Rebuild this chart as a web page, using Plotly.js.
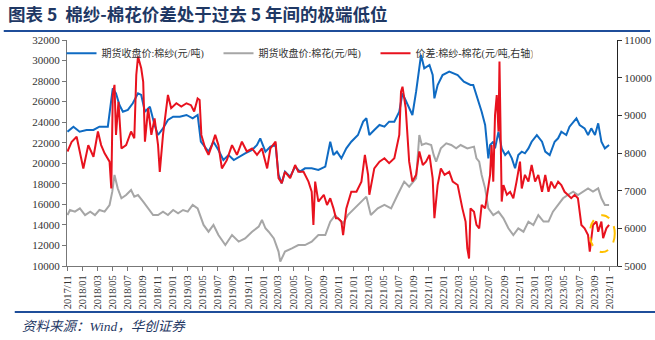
<!DOCTYPE html>
<html>
<head>
<meta charset="utf-8">
<script src="https://cdn.plot.ly/plotly-3.0.1.min.js"></script>
<style>html,body{margin:0;padding:0;background:#fff;}#chart{width:655px;height:340px;}</style>
</head>
<body>
<div id="chart"></div>
<script>
// 期货收盘价:棉纱(元/吨)
const yarnDates = ['2017-11-01','2017-11-25','2017-12-20','2018-01-17','2018-02-14','2018-03-10','2018-04-13','2018-05-03','2018-05-16','2018-05-30','2018-06-13','2018-07-03','2018-07-23','2018-08-13','2018-08-26','2018-09-10','2018-09-30','2018-10-19','2018-11-02','2018-11-22','2018-12-12','2019-01-02','2019-01-29','2019-02-25','2019-03-22','2019-04-11','2019-04-24','2019-05-25','2019-06-14','2019-07-04','2019-07-24','2019-08-14','2019-09-04','2019-09-24','2019-10-20','2019-11-17','2019-12-07','2019-12-20','2020-01-10','2020-01-30','2020-02-20','2020-03-03','2020-03-16','2020-03-29','2020-04-19','2020-05-09','2020-05-29','2020-06-18','2020-07-15','2020-08-11','2020-09-08','2020-09-28','2020-10-11','2020-10-25','2020-11-12','2020-12-02','2020-12-22','2021-01-18','2021-02-08','2021-02-21','2021-03-05','2021-03-25','2021-04-15','2021-05-05','2021-05-24','2021-06-14','2021-07-04','2021-07-17','2021-07-30','2021-08-13','2021-08-26','2021-09-10','2021-09-23','2021-09-30','2021-10-13','2021-11-03','2021-11-16','2021-11-23','2021-12-06','2021-12-26','2022-01-22','2022-02-25','2022-03-22','2022-04-18','2022-04-29','2022-05-12','2022-06-02','2022-06-16','2022-06-29','2022-07-06','2022-07-19','2022-07-26','2022-08-09','2022-08-22','2022-09-05','2022-09-18','2022-10-02','2022-10-15','2022-10-28','2022-11-11','2022-11-24','2022-12-08','2022-12-21','2023-01-11','2023-02-01','2023-02-14','2023-03-04','2023-03-24','2023-04-07','2023-04-20','2023-05-10','2023-05-23','2023-06-07','2023-06-20','2023-07-03','2023-07-23','2023-08-06','2023-08-19','2023-09-03','2023-09-16','2023-09-29','2023-10-13','2023-10-30'];
const yarnPrice = [23070,23560,23070,23240,23240,23560,23560,27300,26810,25670,25020,25190,25840,26810,26650,25020,25510,23730,22750,23400,24210,24530,24530,24700,24380,24700,22100,21130,22100,21290,20320,20800,20320,20640,20970,21290,21780,22430,21130,21610,21780,18860,18050,19180,18690,19670,19180,19510,19510,19350,19670,22100,20800,21130,20480,21450,22100,22750,24050,24380,22750,23240,23730,23560,24050,24050,25020,26810,26160,25510,24700,26970,29240,30540,29240,29570,28590,26320,27620,28590,28920,28590,27940,27620,27620,26650,25020,23730,20480,21780,22100,21450,23070,21450,20800,21130,20480,19510,20800,21130,20970,21450,22100,22750,22100,21130,20800,22100,22430,23070,22750,23560,24050,24380,23730,23400,22750,23400,22750,23890,22100,21450,21780];

// 期货收盘价:棉花(元/吨)
const cottonDates = ['2017-11-01','2017-11-11','2017-12-01','2017-12-21','2018-01-11','2018-02-01','2018-02-20','2018-03-10','2018-03-31','2018-04-20','2018-05-01','2018-05-10','2018-05-23','2018-06-07','2018-06-26','2018-07-16','2018-07-29','2018-08-13','2018-09-03','2018-09-23','2018-10-13','2018-11-02','2018-11-22','2018-12-12','2019-01-02','2019-01-22','2019-02-11','2019-03-02','2019-03-22','2019-04-11','2019-04-24','2019-05-05','2019-05-25','2019-06-14','2019-07-04','2019-08-01','2019-08-28','2019-09-24','2019-10-20','2019-11-17','2019-12-14','2019-12-27','2020-01-10','2020-01-23','2020-02-13','2020-03-03','2020-03-10','2020-03-29','2020-04-26','2020-05-22','2020-06-18','2020-07-15','2020-08-11','2020-09-08','2020-09-28','2020-10-18','2020-10-29','2020-11-19','2020-12-08','2021-01-05','2021-02-01','2021-02-21','2021-03-11','2021-04-08','2021-05-05','2021-06-01','2021-06-27','2021-07-24','2021-08-13','2021-09-10','2021-09-23','2021-10-03','2021-10-20','2021-11-10','2021-11-20','2021-11-30','2021-12-19','2022-01-10','2022-01-30','2022-02-19','2022-03-09','2022-04-05','2022-05-02','2022-05-12','2022-05-23','2022-06-02','2022-06-16','2022-06-29','2022-07-19','2022-08-09','2022-08-29','2022-09-18','2022-10-08','2022-10-28','2022-11-18','2022-12-08','2022-12-28','2023-01-17','2023-02-07','2023-02-27','2023-03-17','2023-04-07','2023-04-27','2023-05-16','2023-06-07','2023-06-26','2023-07-16','2023-08-06','2023-08-26','2023-09-16','2023-09-29','2023-10-13','2023-10-30'];
const cottonPrice = [14960,15450,15290,15610,14960,15290,14960,15450,15290,15940,17240,18860,17560,16590,16910,17400,16750,16910,16260,15610,14960,14960,15290,14960,15450,15130,15450,15290,15940,15610,14800,14000,13340,13990,13020,12040,13020,12370,12690,13340,13830,14480,13670,13340,12690,11400,10420,11400,11720,12040,12040,12370,13020,13020,14320,14960,14640,14150,14960,15610,16260,16750,14960,15610,15940,15610,16910,18210,17720,18530,22750,21780,21940,21780,20810,20160,21450,21940,21780,21450,21780,21450,21620,20480,20160,18860,17560,15610,14960,15290,14640,13670,13020,13670,13340,14320,13990,14960,14320,14320,15290,15940,16590,16910,17240,16910,17240,17560,17240,17560,16590,15940,15940];

// 价差:棉纱-棉花(元/吨,右轴)
const spreadDates = ['2017-11-01','2017-11-18','2017-12-08','2017-12-21','2018-01-04','2018-01-24','2018-02-14','2018-03-04','2018-03-17','2018-03-31','2018-04-20','2018-04-27','2018-05-03','2018-05-10','2018-05-16','2018-05-26','2018-06-07','2018-06-26','2018-07-16','2018-07-29','2018-08-06','2018-08-13','2018-08-26','2018-09-03','2018-09-10','2018-09-23','2018-10-06','2018-10-19','2018-11-02','2018-11-09','2018-11-22','2018-12-12','2018-12-25','2019-01-15','2019-02-04','2019-02-25','2019-03-15','2019-03-28','2019-04-11','2019-04-19','2019-04-26','2019-05-12','2019-05-25','2019-06-08','2019-06-21','2019-07-04','2019-07-18','2019-08-07','2019-08-28','2019-09-17','2019-10-07','2019-10-27','2019-11-17','2019-12-07','2019-12-27','2020-01-17','2020-01-30','2020-02-20','2020-03-03','2020-03-16','2020-03-29','2020-04-19','2020-05-09','2020-05-22','2020-06-12','2020-07-02','2020-07-15','2020-07-22','2020-07-29','2020-08-11','2020-09-02','2020-09-15','2020-09-28','2020-10-11','2020-10-21','2020-10-29','2020-11-12','2020-11-19','2020-12-02','2020-12-22','2021-01-12','2021-02-01','2021-02-15','2021-02-28','2021-03-05','2021-03-25','2021-04-15','2021-05-05','2021-05-24','2021-06-14','2021-07-04','2021-07-11','2021-07-17','2021-07-30','2021-08-13','2021-08-26','2021-09-10','2021-09-23','2021-10-07','2021-10-20','2021-11-03','2021-11-16','2021-11-23','2021-12-06','2021-12-19','2022-01-03','2022-01-22','2022-02-05','2022-02-25','2022-03-16','2022-03-29','2022-04-05','2022-04-12','2022-04-18','2022-05-02','2022-05-12','2022-05-23','2022-06-02','2022-06-16','2022-07-06','2022-07-12','2022-07-19','2022-07-26','2022-08-02','2022-08-09','2022-08-13','2022-08-18','2022-08-22','2022-08-29','2022-09-12','2022-09-25','2022-10-08','2022-10-21','2022-11-04','2022-11-11','2022-11-24','2022-12-08','2022-12-21','2023-01-04','2023-01-17','2023-02-01','2023-02-14','2023-02-27','2023-03-10','2023-03-24','2023-04-07','2023-04-20','2023-05-03','2023-05-16','2023-05-30','2023-06-13','2023-06-26','2023-07-10','2023-07-23','2023-08-06','2023-08-13','2023-08-26','2023-09-09','2023-09-16','2023-09-29','2023-10-06','2023-10-19','2023-10-30'];
const spreadValue = [8040,8300,8430,8040,7590,8210,7900,8570,8210,7990,7770,7060,9540,9810,8480,9360,8120,8210,8570,8390,10070,10560,10250,9890,8300,9190,8480,8920,8210,7500,8480,9540,9190,9320,9230,9320,9270,9100,9450,9410,8480,8120,7950,8210,8480,8210,7590,7810,8210,7950,8300,8040,8120,7950,8120,7590,8120,8300,7330,7200,7500,7330,7680,7500,7500,7240,6970,6090,7240,6710,6890,6620,6800,6530,6270,6270,6180,5820,6530,6970,6970,7240,7950,7420,6890,7590,7770,7860,7730,7860,8480,9630,9760,9190,7770,7240,7420,8040,7680,7770,7950,7330,6270,7150,7590,7420,7500,7240,7150,6530,6180,5470,5200,6530,6440,6090,6000,6620,6530,7420,8210,7240,9010,9540,8570,10430,8660,6710,7150,6890,6970,6800,7240,7770,7060,7420,7240,7680,7240,7420,6970,7420,6970,7240,7060,7240,7150,6970,6890,6800,6890,6800,6090,6000,5820,5380,6090,6180,5910,6180,5740,6000,6090];

// x-axis tick labels every two months
const tickDates = ['2017-11-01','2018-01-01','2018-03-01','2018-05-01','2018-07-01','2018-09-01','2018-11-01','2019-01-01','2019-03-01','2019-05-01','2019-07-01','2019-09-01','2019-11-01','2020-01-01','2020-03-01','2020-05-01','2020-07-01','2020-09-01','2020-11-01','2021-01-01','2021-03-01','2021-05-01','2021-07-01','2021-09-01','2021-11-01','2022-01-01','2022-03-01','2022-05-01','2022-07-01','2022-09-01','2022-11-01','2023-01-01','2023-03-01','2023-05-01','2023-07-01','2023-09-01','2023-11-01'];
const tickLabels = tickDates.map(d => d.slice(0,4) + '/' + d.slice(5,7));

const serif = 'Liberation Serif, "Times New Roman", "Noto Sans CJK SC", serif';
const navy = '#1F3864';

const traces = [
  {x: yarnDates, y: yarnPrice, name: '期货收盘价:棉纱(元/吨)', type: 'scatter', mode: 'lines',
   line: {color: '#0F6BC3', width: 2}, yaxis: 'y'},
  {x: cottonDates, y: cottonPrice, name: '期货收盘价:棉花(元/吨)', type: 'scatter', mode: 'lines',
   line: {color: '#A6A6A6', width: 2}, yaxis: 'y'},
  {x: spreadDates, y: spreadValue, name: '价差:棉纱-棉花(元/吨,右轴)', type: 'scatter', mode: 'lines',
   line: {color: '#E8121E', width: 2}, yaxis: 'y2'}
];

const layout = {
  width: 655, height: 340,
  margin: {l: 67, r: 38, t: 40, b: 74},
  paper_bgcolor: '#fff', plot_bgcolor: '#fff',
  showlegend: true,
  title: {text: '<b>图表 5  棉纱-棉花价差处于过去 5 年间的极端低位</b>', xref: 'container', yref: 'container',
          x: 8/655, xanchor: 'left', y: 1 - 15/340, yanchor: 'middle',
          font: {family: '"Noto Sans CJK SC", sans-serif', size: 17.5, color: navy}},
  legend: {orientation: 'h', x: -0.01, y: 1.005, xanchor: 'left', yanchor: 'top', bgcolor: 'rgba(0,0,0,0)',
           font: {family: serif, size: 10, color: '#333'}, entrywidth: 112, entrywidthmode: 'pixels',
           itemwidth: 30, tracegroupgap: 0},
  xaxis: {type: 'date', range: ['2017-10-30', '2023-12-01'], tickmode: 'array', tickvals: tickDates, ticktext: tickLabels,
          tickangle: -90, ticks: 'outside', ticklen: 4, tickcolor: '#777', showgrid: false, zeroline: false,
          showline: true, linecolor: '#777', linewidth: 1, tickfont: {family: serif, size: 10.5, color: '#333'}},
  yaxis: {range: [10000, 32000], dtick: 2000, tick0: 10000, tickformat: 'd', ticks: 'outside', ticklen: 4, tickcolor: '#777',
          showgrid: false, zeroline: false, showline: true, linecolor: '#777', linewidth: 1,
          tickfont: {family: serif, size: 11, color: '#333'}},
  yaxis2: {range: [5000, 11000], dtick: 1000, tick0: 5000, tickformat: 'd', overlaying: 'y', side: 'right', ticks: 'outside', ticklen: 4,
           tickcolor: '#333', showgrid: false, zeroline: false, showline: true, linecolor: '#222', linewidth: 1,
           tickfont: {family: serif, size: 11, color: '#333'}},
  shapes: [
    {type: 'line', xref: 'paper', yref: 'paper', x0: -0.115, x1: 1.06, y0: 1.04, y1: 1.04, line: {color: '#1F4E9A', width: 2}},
    {type: 'line', xref: 'paper', yref: 'paper', x0: -0.095, x1: 1.07, y0: -0.204, y1: -0.204, line: {color: '#1F4E9A', width: 2}},
    {type: 'circle', xref: 'x', yref: 'y2', x0: '2023-08-13', x1: '2023-11-22', y0: 5370, y1: 6350,
     line: {color: '#FFC000', width: 2, dash: 'dash'}, fillcolor: 'rgba(0,0,0,0)'}
  ],
  annotations: [
    {text: '<i>资料来源：Wind，华创证券</i>', xref: 'paper', yref: 'paper', x: (20-67)/550, y: (266-326)/226,
     xanchor: 'left', yanchor: 'middle', showarrow: false,
     font: {family: 'Liberation Serif, "Noto Sans CJK SC", serif', size: 13.5, color: navy}}
  ]
};

Plotly.newPlot('chart', traces, layout, {displayModeBar: false, staticPlot: true});
</script>
</body>
</html>
